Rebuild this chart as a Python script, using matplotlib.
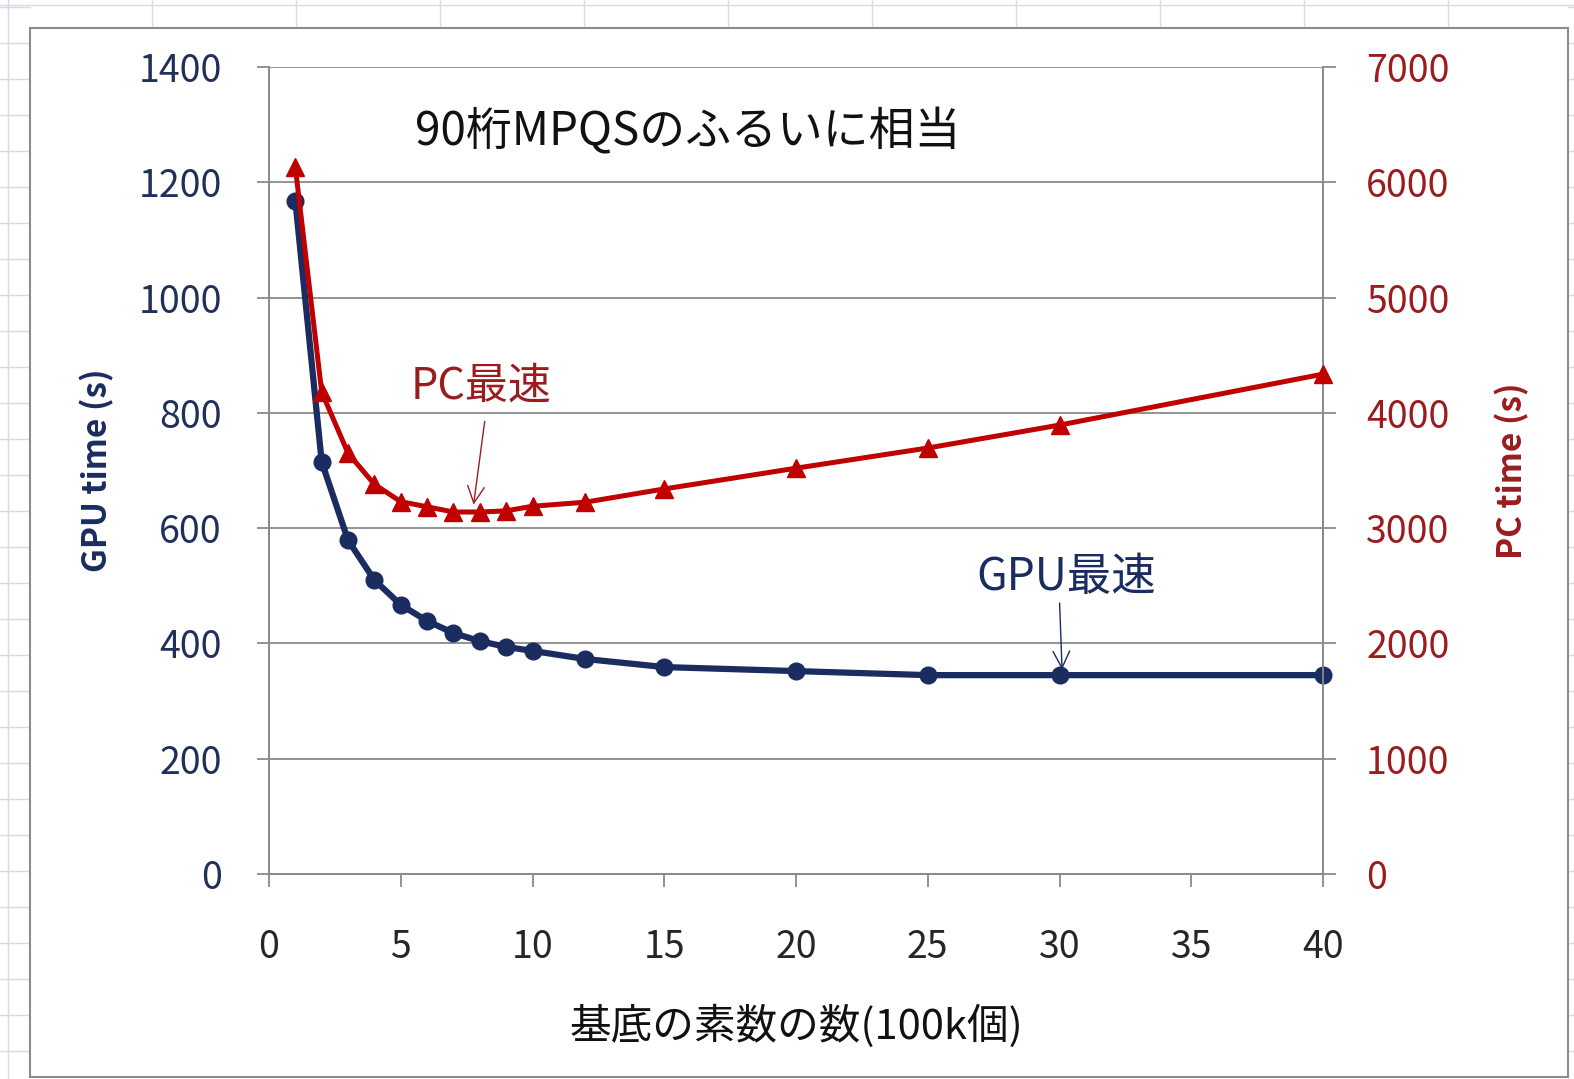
import matplotlib
matplotlib.use("Agg")
import matplotlib.pyplot as plt
from matplotlib.lines import Line2D
from matplotlib.patches import Rectangle

plt.rcParams['font.family'] = ['Noto Sans CJK JP', 'DejaVu Sans']

# ---- data ----
x_primes = [1, 2, 3, 4, 5, 6, 7, 8, 9, 10, 12, 15, 20, 25, 30, 40]
gpu_time = [1168, 715, 579, 510, 467, 439, 418, 404, 394, 387, 373, 359, 352, 345, 345, 345]
pc_time = [6130, 4180, 3650, 3380, 3230, 3185, 3140, 3140, 3150, 3190, 3225, 3340, 3520, 3695, 3894, 4336]
x_ticks = [0, 5, 10, 15, 20, 25, 30, 35, 40]
gpu_ticks = [0, 200, 400, 600, 800, 1000, 1200, 1400]
pc_ticks = [0, 1000, 2000, 3000, 4000, 5000, 6000, 7000]

title_text = "90桁MPQSのふるいに相当"
xlabel = "基底の素数の数(100k個)"
ylabel_left = "GPU time (s)"
ylabel_right = "PC time (s)"
pc_note = "PC最速"
gpu_note = "GPU最速"

NAVY = "#1a2c60"
RED = "#c00000"
LABEL_NAVY = "#1f3158"
LABEL_RED = "#9b1c1f"
GRID = "#8a8a8a"
SHEET = "#d5dbe3"

W, H = 1574, 1079
fig = plt.figure(figsize=(W / 100, H / 100), dpi=100)
fig.patch.set_facecolor("white")

def fx(px):
    return px / W

def fy(py):
    return 1 - py / H

# spreadsheet grid background
for yy in range(7, H, 36):
    fig.add_artist(Line2D([fx(0), fx(30)], [fy(yy), fy(yy)], color=SHEET, lw=1, zorder=-3))
    fig.add_artist(Line2D([fx(1568), fx(W)], [fy(yy), fy(yy)], color=SHEET, lw=1, zorder=-3))
fig.add_artist(Line2D([fx(8), fx(8)], [0, 1], color=SHEET, lw=1, zorder=-3))
fig.add_artist(Line2D([0, 1], [fy(5), fy(5)], color=SHEET, lw=1, zorder=-3))
for xx in range(152, W, 144):
    fig.add_artist(Line2D([fx(xx), fx(xx)], [fy(0), fy(28)], color=SHEET, lw=1, zorder=-3))

# chart border
fig.add_artist(Rectangle((fx(30), fy(1077)), fx(1568) - fx(30), fy(28) - fy(1077),
                         facecolor="white", edgecolor="#8c8c8c", lw=1.5, zorder=-2))

ax = fig.add_axes([fx(269), fy(874), fx(1323) - fx(269), fy(67) - fy(874)])
ax.set_facecolor("none")
ax2 = ax.twinx()

ax.set_xlim(0, 40)
ax.set_ylim(0, 1400)
ax2.set_ylim(0, 7000)

for y in gpu_ticks[1:]:
    ax.axhline(y, color=GRID, lw=1.3, zorder=0)

ax.plot(x_primes, gpu_time, color=NAVY, lw=4.5, marker="o", ms=12, zorder=3, clip_on=False)
ax2.plot(x_primes, pc_time, color=RED, lw=3.6, marker="^", ms=13, zorder=3, clip_on=False)

for a in (ax, ax2):
    a.spines['top'].set_visible(False)
    for s in ('left', 'right', 'bottom'):
        a.spines[s].set_color(GRID)
        a.spines[s].set_linewidth(1.3)

ax.set_xticks(x_ticks)
ax.set_yticks(gpu_ticks)
ax2.set_yticks(pc_ticks)
ax.tick_params(axis='x', direction='out', length=9, width=1.3, color=GRID,
               labelsize=27, labelcolor="#262626", pad=30)
ax.tick_params(axis='y', direction='out', length=9, width=1.3, color=GRID,
               labelsize=27, labelcolor=LABEL_NAVY, pad=25)
ax2.tick_params(axis='y', direction='out', length=9, width=1.3, color=GRID,
                labelsize=27, labelcolor=LABEL_RED, pad=22)

ax.set_xlabel(xlabel, fontsize=30, color="#111111", labelpad=27)
ax.set_ylabel(ylabel_left, fontsize=24, fontweight='bold', color=NAVY, labelpad=17)
ax2.set_ylabel(ylabel_right, fontsize=24, fontweight='bold', color=LABEL_RED, labelpad=33)

ax.text(15.9, 1287, title_text, fontsize=33, color="#111111", ha="center", va="center")

# annotations
ax2.text(8.05, 4230, pc_note, fontsize=31, color=LABEL_RED, ha="center", va="center")
ax2.annotate("", xy=(7.75, 3180), xytext=(8.2, 3950),
             arrowprops=dict(arrowstyle="->", color=LABEL_RED, lw=1.0, mutation_scale=30))
ax.text(30.25, 515, gpu_note, fontsize=32, color=NAVY, ha="center", va="center")
ax.annotate("", xy=(30.1, 350), xytext=(30.0, 475),
            arrowprops=dict(arrowstyle="->", color=NAVY, lw=1.0, mutation_scale=30))

fig.savefig("out.png", dpi=100)
